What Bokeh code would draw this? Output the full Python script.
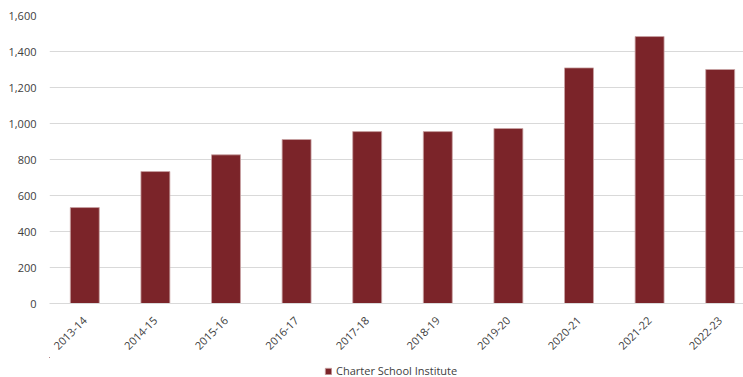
from bokeh.plotting import figure
from bokeh.models import Range1d, ColumnDataSource, Legend, LegendItem, FixedTicker, NumeralTickFormatter
from bokeh.layouts import column
from bokeh.embed import file_html
from bokeh.resources import INLINE
import math

years = ["2013-14", "2014-15", "2015-16", "2016-17", "2017-18",
         "2018-19", "2019-20", "2020-21", "2021-22", "2022-23"]
csi_values = [533, 733, 826, 911, 955, 955, 972, 1309, 1483, 1300]
series_name = "Charter School Institute"
y_ticks = [0, 200, 400, 600, 800, 1000, 1200, 1400, 1600]

FONT = "Open Sans"
TXT = "#404040"
BAR = "#7B2429"
EDGE = "#C9A3A5"

xs = list(range(len(years)))
src = ColumnDataSource(dict(x=xs, top=csi_values))

p = figure(width=743, height=357, output_backend="svg", toolbar_location=None,
           x_range=Range1d(-0.5, 9.33), y_range=Range1d(0, 1600),
           min_border_left=49, min_border_right=0, min_border_top=15, min_border_bottom=54)
p.outline_line_color = None

r = p.vbar(x="x", top="top", width=0.41, source=src, fill_color=BAR,
           line_color=EDGE, line_width=0.8)

p.xaxis.ticker = FixedTicker(ticks=xs)
p.xaxis.major_label_overrides = {i: y for i, y in enumerate(years)}
p.xaxis.major_label_orientation = math.pi / 4
p.xaxis.major_tick_line_color = None
p.xaxis.minor_tick_line_color = None
p.xaxis.axis_line_color = "#D9D9D9"
p.xaxis.axis_line_width = 1
p.xaxis.major_label_text_font = FONT
p.xaxis.major_label_text_font_size = "11px"
p.xaxis.major_label_text_color = TXT
p.xaxis.major_label_standoff = 9

p.yaxis.ticker = FixedTicker(ticks=y_ticks)
p.yaxis.formatter = NumeralTickFormatter(format="0,0")
p.yaxis.axis_line_color = None
p.yaxis.major_tick_line_color = None
p.yaxis.minor_tick_line_color = None
p.yaxis.major_label_text_font = FONT
p.yaxis.major_label_text_font_size = "11px"
p.yaxis.major_label_text_color = TXT
p.yaxis.major_label_standoff = 7

p.xgrid.grid_line_color = None
p.ygrid.ticker = FixedTicker(ticks=y_ticks)
p.ygrid.grid_line_color = "#D9D9D9"
p.ygrid.grid_line_width = 1

# legend strip below the chart; its proxy bars lie far outside its ranges
lg = figure(width=743, height=20, output_backend="svg", toolbar_location=None,
            x_range=Range1d(1000, 1010), y_range=Range1d(-20000, -19990),
            min_border_left=0, min_border_right=0, min_border_top=0, min_border_bottom=0)
lg.axis.visible = False
lg.grid.visible = False
lg.outline_line_color = None
proxy = lg.vbar(x="x", top="top", bottom=0, width=0.41, source=src, fill_color=BAR,
                line_color=EDGE, line_width=0.8)
legend = Legend(items=[LegendItem(label=series_name, renderers=[proxy])],
                location=(275, -1), orientation="horizontal",
                border_line_color=None, background_fill_alpha=0,
                label_text_font=FONT, label_text_font_size="11px",
                label_text_color=TXT, glyph_width=8, glyph_height=8,
                label_standoff=4, padding=0, margin=0, label_height=14)
lg.add_layout(legend, "center")

layout = column(p, lg, spacing=0)
open("out.html", "w").write(file_html(layout, INLINE))
